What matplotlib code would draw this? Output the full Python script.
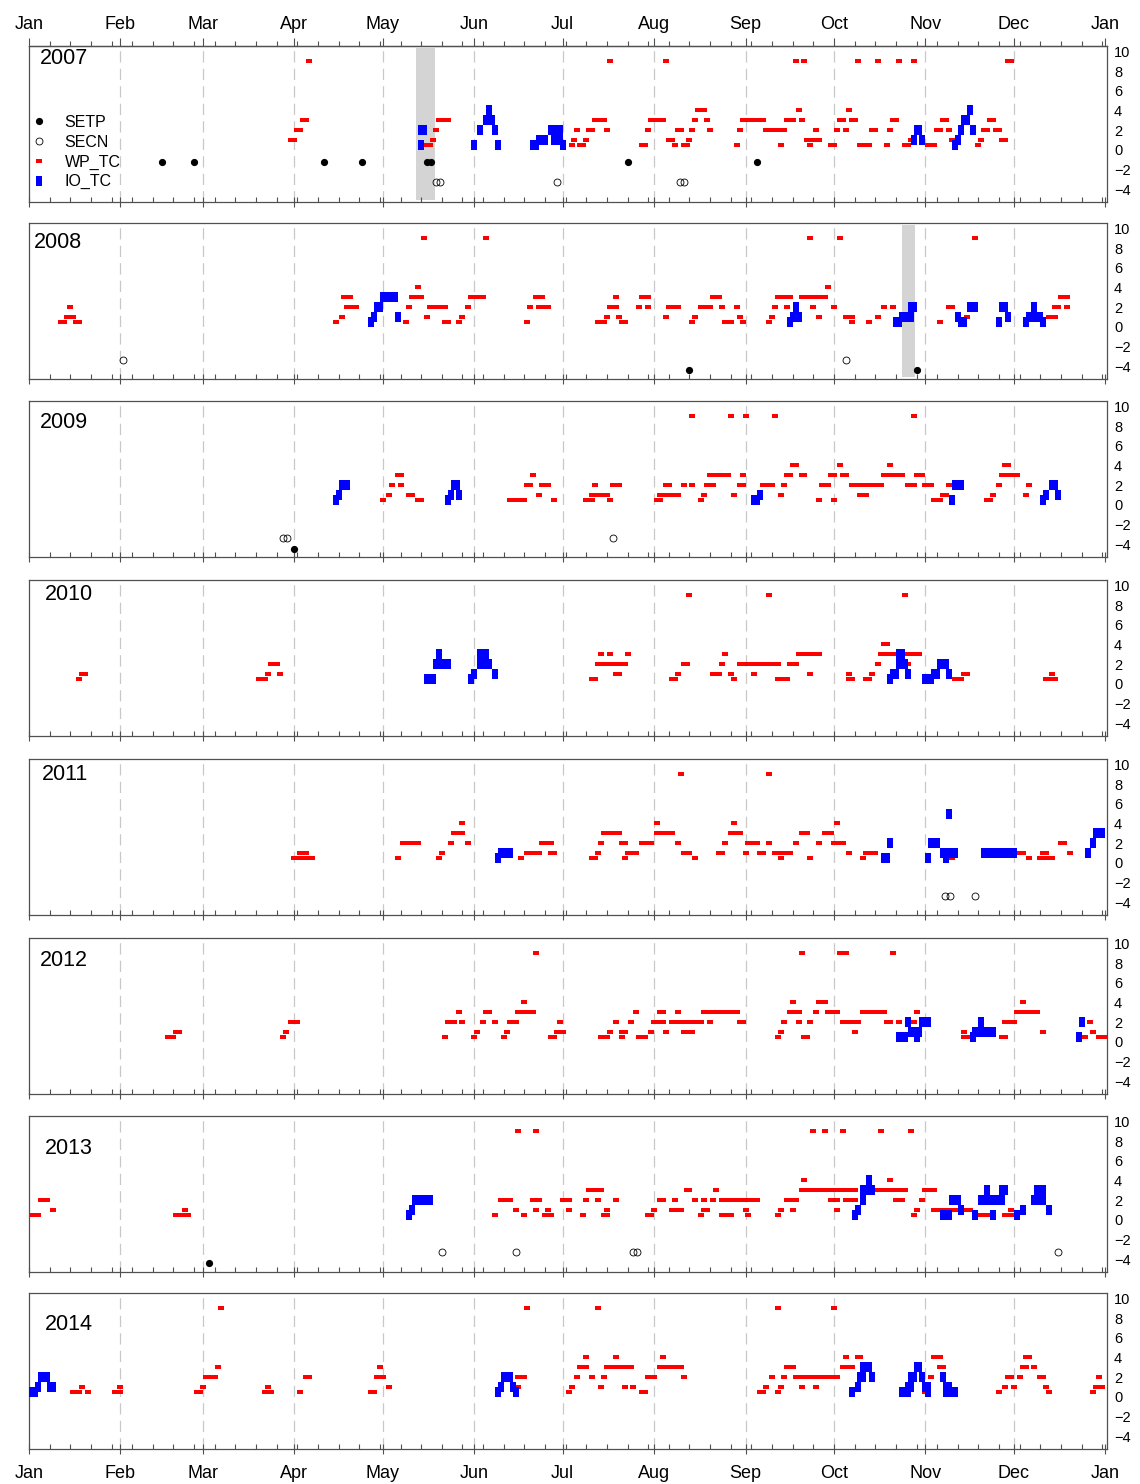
import matplotlib
matplotlib.use("Agg")
import matplotlib.pyplot as plt
from matplotlib.lines import Line2D

plt.rcParams['font.family'] = ['Liberation Sans', 'DejaVu Sans']

# ============== Data (day of year, 0 = Jan 1) ==============
# runs of consecutive days: (first_day, last_day, level)
MONTH_STARTS = [0, 31, 59, 90, 120, 151, 181, 212, 243, 273, 304, 334, 365]
MONTH_LABELS = ["Jan", "Feb", "Mar", "Apr", "May", "Jun", "Jul", "Aug",
                "Sep", "Oct", "Nov", "Dec", "Jan"]
YEARS = [2007, 2008, 2009, 2010, 2011, 2012, 2013, 2014]

wp_2007 = [(89, 90, 1), (91, 92, 2), (93, 94, 3), (95, 95, 9),
           (135, 136, 0.5), (137, 137, 1), (138, 138, 2), (139, 142, 3),
           (184, 184, 0.5), (185, 185, 1), (186, 186, 2), (187, 188, 0.5), (189, 189, 1),
           (190, 191, 2), (192, 195, 3), (196, 196, 2), (197, 197, 9),
           (208, 209, 0.5), (210, 210, 2), (211, 215, 3), (216, 216, 9), (217, 218, 1),
           (219, 219, 0.5), (220, 221, 2), (222, 223, 0.5), (224, 224, 1), (225, 225, 2),
           (226, 226, 3), (227, 229, 4), (230, 230, 3), (231, 231, 2),
           (240, 240, 0.5), (241, 241, 2), (242, 249, 3), (250, 256, 2), (255, 255, 0.5),
           (257, 259, 3), (260, 260, 9), (261, 261, 4), (262, 262, 3), (263, 263, 9),
           (264, 264, 1), (265, 265, 0.5), (265, 268, 1), (267, 267, 2),
           (272, 273, 0.5), (274, 274, 2), (275, 276, 3), (277, 277, 2), (278, 278, 4),
           (279, 280, 3), (281, 281, 9), (282, 285, 0.5), (286, 287, 2), (288, 288, 9),
           (291, 291, 0.5), (292, 292, 2), (293, 294, 3), (295, 295, 9), (297, 298, 0.5),
           (299, 299, 1), (300, 300, 9), (305, 307, 0.5), (308, 309, 2), (310, 311, 3),
           (312, 312, 2), (313, 313, 1), (322, 322, 0.5), (323, 323, 1), (324, 325, 2),
           (326, 327, 3), (328, 329, 2), (330, 331, 1), (332, 333, 9)]
io_2007 = [(133, 133, 0.5), (133, 134, 2),
           (151, 151, 0.5), (153, 153, 2), (155, 157, 3), (156, 156, 4), (158, 158, 2),
           (159, 159, 0.5), (171, 172, 0.5), (173, 175, 1), (177, 177, 2), (178, 180, 1),
           (179, 180, 2), (181, 181, 0.5), (300, 300, 1), (301, 302, 2), (303, 303, 1),
           (314, 314, 0.5), (315, 315, 1), (316, 316, 2), (317, 318, 3), (319, 319, 4),
           (320, 320, 2)]

wp_2008 = [(11, 12, 0.5), (13, 13, 1), (14, 14, 2), (15, 15, 1), (16, 17, 0.5),
           (104, 104, 0.5), (106, 106, 1), (107, 109, 3), (108, 108, 2), (110, 111, 2),
           (128, 128, 0.5), (129, 129, 2), (130, 133, 3), (132, 132, 4), (134, 134, 9),
           (135, 135, 1), (136, 141, 2), (141, 142, 0.5),
           (146, 146, 0.5), (147, 147, 1), (149, 149, 2), (150, 154, 3), (155, 155, 9),
           (169, 169, 0.5), (170, 170, 2), (172, 174, 3), (173, 176, 2),
           (193, 195, 0.5), (196, 196, 1), (197, 199, 2), (199, 199, 3), (200, 200, 1),
           (201, 202, 0.5), (207, 207, 2), (208, 210, 3), (210, 210, 2),
           (216, 216, 1), (217, 220, 2), (225, 225, 0.5), (226, 226, 1), (228, 231, 2),
           (232, 234, 3), (235, 235, 2), (236, 238, 0.5), (240, 240, 2), (241, 241, 1),
           (242, 242, 0.5), (251, 251, 0.5), (252, 252, 1), (253, 253, 2), (254, 258, 3),
           (257, 257, 2), (262, 264, 3), (265, 265, 9), (266, 270, 3), (266, 266, 2),
           (268, 268, 1), (271, 271, 4), (273, 273, 2), (275, 275, 9), (277, 279, 1),
           (279, 279, 0.5), (285, 285, 0.5), (288, 288, 1), (290, 290, 2), (293, 293, 2),
           (309, 309, 0.5), (312, 313, 2), (318, 318, 1), (321, 321, 9),
           (346, 348, 1), (348, 349, 2), (350, 352, 3), (352, 352, 2)]
io_2008 = [(116, 116, 0.5), (117, 117, 1), (118, 119, 2), (120, 124, 3), (125, 125, 1),
           (258, 258, 0.5), (259, 259, 1), (260, 260, 2), (261, 261, 1),
           (294, 295, 0.5), (296, 299, 1), (299, 300, 2),
           (315, 315, 1), (316, 317, 0.5), (319, 321, 2),
           (329, 329, 0.5), (330, 331, 2), (332, 332, 1),
           (338, 338, 0.5), (339, 343, 1), (341, 341, 2), (344, 344, 0.5)]

wp_2009 = [(120, 120, 0.5), (122, 122, 1), (123, 123, 2), (125, 126, 3), (126, 126, 2),
           (129, 130, 1), (132, 133, 0.5),
           (163, 168, 0.5), (169, 170, 2), (171, 171, 3), (173, 173, 1), (174, 176, 2),
           (178, 178, 0.5), (189, 191, 0.5), (191, 193, 1), (192, 192, 2), (195, 196, 1),
           (197, 197, 0.5), (198, 200, 2),
           (213, 214, 0.5), (214, 220, 1), (216, 217, 2), (222, 222, 2), (225, 225, 9),
           (225, 225, 2), (228, 228, 0.5), (229, 229, 1), (230, 232, 2), (231, 237, 3),
           (238, 238, 9), (239, 239, 1), (241, 242, 2), (242, 242, 3), (243, 243, 9),
           (249, 252, 2), (253, 253, 9), (255, 255, 1), (256, 256, 2), (257, 258, 3),
           (259, 260, 4), (262, 263, 3), (268, 268, 0.5), (269, 271, 2), (272, 273, 3),
           (273, 273, 0.5), (275, 275, 4), (276, 277, 3), (279, 282, 2), (282, 284, 1),
           (284, 289, 2), (290, 296, 3), (292, 292, 4), (298, 300, 2), (300, 300, 9),
           (301, 303, 3), (304, 306, 2), (307, 309, 0.5), (310, 311, 1), (312, 312, 2),
           (325, 326, 0.5), (327, 327, 1), (329, 329, 2), (330, 332, 3), (331, 332, 4),
           (334, 335, 3), (338, 338, 1), (339, 339, 2)]
io_2009 = [(104, 104, 0.5), (105, 105, 1), (106, 108, 2),
           (142, 142, 0.5), (143, 143, 1), (144, 145, 2), (146, 146, 1),
           (246, 247, 0.5), (248, 248, 1), (313, 313, 0.5), (314, 316, 2),
           (344, 344, 0.5), (345, 345, 1), (347, 348, 2), (349, 349, 1)]

wp_2010 = [(17, 17, 0.5), (18, 19, 1),
           (78, 80, 0.5), (81, 81, 1), (82, 84, 2), (85, 85, 1),
           (191, 192, 0.5), (193, 202, 2), (194, 194, 3), (197, 197, 3), (199, 200, 1),
           (203, 203, 3), (218, 219, 0.5), (220, 220, 1), (222, 223, 2), (224, 224, 9),
           (232, 234, 1), (235, 235, 2), (236, 236, 3), (238, 238, 1), (239, 239, 0.5),
           (241, 254, 2), (246, 246, 1), (251, 251, 9), (254, 257, 0.5), (258, 260, 2),
           (261, 268, 3), (265, 265, 1), (278, 279, 0.5), (278, 278, 1), (284, 285, 0.5),
           (286, 286, 1), (288, 288, 2), (289, 302, 3), (290, 291, 4), (297, 297, 9),
           (298, 298, 2), (314, 316, 0.5), (317, 318, 1), (345, 348, 0.5), (347, 347, 1)]
io_2010 = [(135, 137, 0.5), (138, 142, 2), (139, 139, 3),
           (150, 150, 0.5), (151, 151, 1), (153, 154, 2), (153, 155, 3), (156, 156, 2),
           (158, 158, 1), (292, 292, 0.5), (293, 294, 1), (295, 295, 2), (295, 296, 3),
           (297, 297, 2), (298, 298, 1), (304, 306, 0.5), (307, 308, 1), (309, 311, 2),
           (312, 312, 1)]

wp_2011 = [(90, 96, 0.5), (92, 94, 1), (125, 125, 0.5), (127, 132, 2),
           (139, 139, 0.5), (140, 140, 1), (143, 143, 2), (144, 147, 3), (147, 147, 4),
           (149, 149, 2), (167, 167, 0.5), (169, 173, 1), (174, 177, 2), (177, 178, 1),
           (191, 192, 0.5), (193, 193, 1), (194, 194, 2), (195, 200, 3), (201, 202, 2),
           (202, 202, 0.5), (203, 204, 1), (206, 206, 1), (208, 211, 2), (213, 213, 4),
           (213, 218, 3), (220, 220, 2), (221, 221, 9), (222, 224, 1), (226, 226, 0.5),
           (234, 235, 1), (236, 236, 2), (238, 241, 3), (239, 239, 4), (243, 243, 1),
           (244, 247, 2), (248, 249, 1), (251, 251, 2), (251, 251, 9), (253, 258, 1),
           (255, 255, 0.5), (260, 260, 2), (262, 264, 3), (265, 265, 0.5), (268, 268, 2),
           (270, 272, 3), (274, 274, 4), (273, 276, 2), (278, 278, 1),
           (283, 283, 0.5), (284, 287, 1), (313, 313, 0.5),
           (336, 337, 1), (339, 339, 0.5), (343, 347, 0.5), (344, 345, 1), (350, 351, 2),
           (353, 353, 1)]
io_2011 = [(159, 159, 0.5), (160, 163, 1), (290, 291, 0.5), (292, 292, 2),
           (305, 305, 0.5), (306, 308, 2), (310, 310, 1), (311, 311, 0.5), (312, 314, 1),
           (312, 312, 5), (324, 334, 1), (359, 359, 1), (361, 361, 2), (362, 364, 3)]

wp_2012 = [(47, 49, 0.5), (50, 51, 1), (86, 86, 0.5), (87, 87, 1), (89, 91, 2),
           (141, 141, 0.5), (142, 144, 2), (146, 146, 3), (147, 147, 2),
           (151, 151, 0.5), (152, 152, 1), (154, 154, 2), (155, 156, 3), (158, 158, 2),
           (161, 161, 0.5), (162, 162, 1), (163, 165, 2), (166, 171, 3), (168, 168, 4),
           (172, 172, 9), (177, 178, 0.5), (179, 181, 1), (180, 180, 2),
           (194, 196, 0.5), (197, 197, 1), (199, 199, 2), (201, 202, 1), (201, 201, 0.5),
           (204, 204, 2), (206, 206, 3), (207, 209, 0.5), (211, 211, 1), (212, 215, 2),
           (214, 215, 3), (216, 216, 1), (218, 225, 2), (220, 220, 3), (222, 225, 1),
           (227, 228, 2), (229, 240, 3), (231, 231, 2), (241, 242, 2),
           (254, 254, 0.5), (255, 255, 1), (256, 256, 2), (258, 261, 3), (259, 259, 4),
           (261, 261, 2), (262, 262, 9), (263, 264, 0.5), (265, 265, 2), (267, 267, 3),
           (268, 270, 4), (271, 274, 3), (275, 275, 9), (277, 277, 9), (276, 281, 2),
           (280, 280, 1), (283, 290, 3), (291, 292, 2), (293, 293, 9), (295, 295, 2),
           (300, 300, 2), (301, 301, 3), (317, 318, 0.5), (317, 317, 1),
           (330, 331, 0.5), (331, 334, 2), (335, 342, 3), (337, 337, 4), (344, 344, 1),
           (358, 358, 0.5), (360, 360, 2), (361, 361, 1), (363, 365, 0.5)]
io_2012 = [(295, 297, 0.5), (298, 298, 2), (299, 302, 1), (301, 301, 0.5), (303, 305, 2),
           (320, 320, 0.5), (321, 327, 1), (323, 323, 2), (356, 356, 0.5), (357, 357, 2)]

wp_2013 = [(0, 3, 0.5), (4, 6, 2), (8, 8, 1), (50, 54, 0.5), (53, 53, 1),
           (158, 158, 0.5), (160, 163, 2), (165, 165, 1), (166, 166, 9), (168, 168, 0.5),
           (171, 173, 2), (172, 172, 1), (172, 172, 9), (175, 175, 0.5), (176, 176, 1),
           (177, 177, 0.5), (181, 183, 2), (183, 183, 1), (188, 188, 0.5), (189, 189, 2),
           (190, 194, 3), (193, 193, 2), (195, 196, 0.5), (196, 196, 1), (199, 199, 2),
           (210, 211, 0.5), (212, 212, 1), (214, 215, 2), (218, 221, 1), (219, 219, 2),
           (223, 224, 3), (226, 226, 2), (228, 228, 0.5), (229, 230, 1), (229, 229, 2),
           (232, 232, 2), (233, 233, 3), (235, 238, 0.5), (235, 237, 2), (239, 241, 2),
           (243, 247, 2), (243, 243, 1), (244, 244, 0.5),
           (254, 254, 0.5), (255, 255, 1), (257, 260, 2), (259, 259, 1), (262, 280, 3),
           (263, 263, 4), (266, 266, 9), (270, 270, 9), (276, 276, 9), (272, 274, 2),
           (274, 274, 1), (277, 280, 2), (287, 297, 3), (289, 289, 9), (292, 292, 4),
           (294, 296, 2), (299, 299, 9), (300, 300, 0.5), (301, 301, 1), (303, 303, 2),
           (304, 307, 3), (307, 314, 1), (317, 319, 1), (323, 325, 0.5), (331, 333, 0.5),
           (333, 333, 1)]
io_2013 = [(129, 129, 0.5), (130, 130, 1), (131, 136, 2),
           (280, 280, 0.5), (281, 281, 1), (283, 283, 2), (283, 284, 3), (285, 285, 4),
           (286, 286, 3), (310, 312, 0.5), (313, 315, 2), (316, 316, 1), (321, 321, 0.5),
           (323, 330, 2), (325, 325, 3), (327, 327, 0.5), (330, 331, 3), (335, 335, 0.5),
           (337, 337, 1), (341, 344, 2), (342, 344, 3), (346, 346, 1)]

wp_2014 = [(15, 17, 0.5), (18, 18, 1), (20, 20, 0.5), (29, 31, 0.5), (31, 31, 1),
           (57, 58, 0.5), (59, 59, 1), (60, 63, 2), (64, 64, 3), (65, 65, 9),
           (80, 82, 0.5), (81, 81, 1), (92, 92, 0.5), (94, 95, 2),
           (116, 117, 0.5), (118, 118, 2), (119, 119, 3), (120, 120, 2), (122, 122, 1),
           (166, 168, 2), (166, 166, 1), (169, 169, 9),
           (183, 183, 0.5), (184, 184, 1), (186, 186, 2), (187, 189, 3), (189, 189, 4),
           (191, 191, 2), (193, 193, 9), (194, 194, 1), (195, 195, 2), (196, 204, 3),
           (199, 199, 4), (202, 202, 1), (205, 205, 1), (208, 209, 0.5), (210, 212, 2),
           (214, 221, 3), (215, 215, 4), (222, 222, 2),
           (248, 249, 0.5), (250, 250, 1), (252, 252, 2), (254, 254, 9), (254, 254, 0.5),
           (255, 255, 1), (256, 256, 2), (257, 259, 3), (260, 274, 2), (262, 262, 1),
           (267, 267, 1), (273, 273, 9), (276, 279, 3), (277, 277, 4), (281, 282, 4),
           (304, 304, 0.5), (306, 306, 2), (307, 309, 4), (309, 310, 3),
           (329, 329, 0.5), (331, 331, 1), (332, 333, 2), (334, 334, 1), (336, 336, 2),
           (337, 338, 3), (338, 339, 4), (341, 341, 3), (343, 344, 2), (345, 345, 1),
           (346, 346, 0.5), (361, 361, 0.5), (362, 364, 1), (363, 363, 2)]
io_2014 = [(1, 2, 0.5), (3, 3, 1), (4, 6, 2), (7, 8, 1),
           (159, 159, 0.5), (160, 160, 1), (161, 163, 2), (164, 164, 1), (165, 165, 0.5),
           (279, 279, 0.5), (281, 281, 1), (282, 283, 2), (283, 285, 3), (286, 286, 2),
           (296, 298, 0.5), (298, 299, 1), (299, 300, 2), (301, 302, 3), (303, 303, 2),
           (304, 305, 1), (305, 305, 0.5), (310, 310, 2), (311, 311, 1), (311, 314, 0.5),
           (312, 312, 1)]

# SETP (filled) and SECN (open) events: (day, y)
setp_2007 = [(45, -1.2), (56, -1.2), (100, -1.2), (113, -1.2), (135, -1.2),
             (136.5, -1.2), (203, -1.2), (247, -1.2)]
secn_2007 = [(138, -3.3), (139.5, -3.3), (179, -3.3), (220.7, -3.3), (222, -3.3)]
setp_2008 = [(224, -4.4), (301, -4.4)]
secn_2008 = [(32, -3.4), (277, -3.4)]
setp_2009 = [(90, -4.5)]
secn_2009 = [(86, -3.4), (87.5, -3.4), (198, -3.4)]
secn_2011 = [(310.7, -3.4), (312.3, -3.4), (321, -3.4)]
setp_2013 = [(61, -4.4)]
secn_2013 = [(140, -3.3), (165, -3.3), (205, -3.3), (206.3, -3.3), (349, -3.3)]

# shaded periods (first_day, last_day)
shade_2007 = [(131.4, 137.8)]
shade_2008 = [(296, 300.4)]

WP = [wp_2007, wp_2008, wp_2009, wp_2010, wp_2011, wp_2012, wp_2013, wp_2014]
IO = [io_2007, io_2008, io_2009, io_2010, io_2011, io_2012, io_2013, io_2014]
SETP = [setp_2007, setp_2008, setp_2009, [], [], [], setp_2013, []]
SECN = [secn_2007, secn_2008, secn_2009, [], secn_2011, [], secn_2013, []]
SHADE = [shade_2007, shade_2008, [], [], [], [], [], []]
# ===========================================================

W, H = 1140, 1484
PANEL_TOPS = [46, 223, 401, 580, 759, 938, 1116, 1293]   # px from top
PANEL_H = 156
LEFT, RIGHT = 29, 1107
LABEL_POS = [(40, 58), (34, 243), (40, 423), (45, 594), (42, 775), (40, 961),
             (45, 1148), (45, 1324)]

WP_MARK = [(-1, -0.64), (1, -0.64), (1, 0.64), (-1, 0.64), (-1, -0.64)]
IO_MARK = [(-0.64, -1), (0.64, -1), (0.64, 1), (-0.64, 1), (-0.64, -1)]
RED = '#ff0000'
BLUE = '#0000ff'
AXCOL = '#505050'


def expand(runs):
    days, levels = [], []
    for first, last, level in runs:
        for d in range(first, last + 1):
            days.append(d)
            levels.append(level)
    return days, levels


fig = plt.figure(figsize=(W / 100, H / 100), dpi=100)

for i, year in enumerate(YEARS):
    top = PANEL_TOPS[i]
    ax = fig.add_axes([LEFT / W, 1 - (top + PANEL_H) / H, (RIGHT - LEFT) / W, PANEL_H / H])
    ax.set_xlim(0, 365.6)
    ax.set_ylim(-5.3, 10.55)

    for m in MONTH_STARTS[1:-1]:
        ax.axvline(m, color='#c8c8c8', lw=0.9, dashes=(9, 5), zorder=0)
    for first, last in SHADE[i]:
        ax.axvspan(first, last, ymin=0.015, ymax=0.985, color='#d4d4d4', lw=0, zorder=0.5)

    d, v = expand(WP[i])
    ax.plot(d, v, ls='none', marker=WP_MARK, ms=4.4, mew=0, color=RED, zorder=2)
    d, v = expand(IO[i])
    ax.plot(d, v, ls='none', marker=IO_MARK, ms=6.9, mew=0, color=BLUE, zorder=3)
    if SETP[i]:
        ax.plot([p[0] for p in SETP[i]], [p[1] for p in SETP[i]], ls='none', marker='o',
                ms=5.2, color='black', mew=0, zorder=4)
    if SECN[i]:
        ax.plot([p[0] for p in SECN[i]], [p[1] for p in SECN[i]], ls='none', marker='o',
                ms=5.0, mfc='none', mec='black', mew=0.6, zorder=4)

    lx, ly = LABEL_POS[i]
    ax.text((lx - LEFT) / (RIGHT - LEFT), (top + PANEL_H - ly) / PANEL_H, str(year),
            transform=ax.transAxes, fontsize=15.5, ha='left', va='center')

    # axes styling
    for s in ax.spines.values():
        s.set_color(AXCOL)
        s.set_linewidth(0.9)
    ax.set_xticks(MONTH_STARTS)
    ax.set_xticks(list(range(0, 366, 7)), minor=True)
    ax.set_yticks([10, 8, 6, 4, 2, 0, -2, -4])
    ax.tick_params(axis='y', left=False, right=True, labelleft=False, labelright=True,
                   length=0, pad=5, labelsize=10.5)
    ax.tick_params(axis='x', which='major', direction='inout', length=7, width=0.8,
                   color=AXCOL, labelsize=13, pad=8)
    ax.tick_params(axis='x', which='minor', direction='in', length=3.5, width=0.8,
                   color=AXCOL)
    ax.set_xticklabels(MONTH_LABELS)
    ax.tick_params(axis='x', which='major', labelbottom=(i == len(YEARS) - 1))

    if i == 0:
        # month axis above the first panel, ticks pointing up
        sec = ax.secondary_xaxis('top')
        sec.set_xticks(MONTH_STARTS, labels=MONTH_LABELS)
        sec.set_xticks(list(range(0, 366, 7)), minor=True)
        sec.tick_params(axis='x', which='major', direction='out', length=6, width=0.8,
                        color=AXCOL, labelsize=13, pad=3)
        sec.tick_params(axis='x', which='minor', direction='out', length=3.5, width=0.8,
                        color=AXCOL)
        sec.spines['top'].set_color(AXCOL)
        sec.spines['top'].set_linewidth(0.9)

        handles = [
            Line2D([], [], ls='none', marker='o', ms=5.2, color='black', mew=0),
            Line2D([], [], ls='none', marker='o', ms=5.0, mfc='none', mec='black', mew=0.6),
            Line2D([], [], ls='none', marker=WP_MARK, ms=4.4, mew=0, color=RED),
            Line2D([], [], ls='none', marker=IO_MARK, ms=6.9, mew=0, color=BLUE),
        ]
        ax.legend(handles, ["SETP", "SECN", "WP_TC", "IO_TC"], loc='upper left',
                  bbox_to_anchor=(-0.004, 0.6), frameon=False, fontsize=11.5,
                  handlelength=1.0, handletextpad=1.1, labelspacing=0.3, borderaxespad=0)

fig.savefig("out.png", dpi=100)
